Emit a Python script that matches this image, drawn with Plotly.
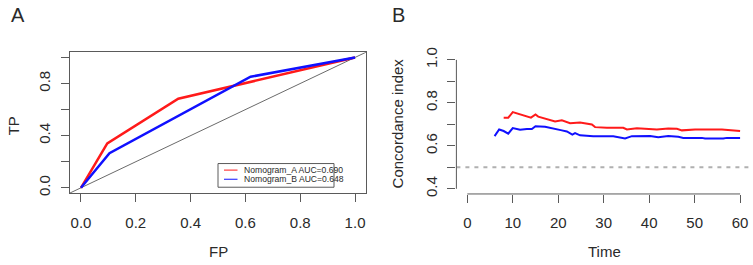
import plotly.graph_objects as go

# ---------------- Panel A data (ROC) ----------------
fp_a = [0, 0.096, 0.355, 1.0]
tp_a = [0, 0.34, 0.683, 1.0]
fp_b = [0, 0.104, 0.619, 1.0]
tp_b = [0, 0.265, 0.852, 1.0]
roc_names = ["Nomogram_A AUC=0.690", "Nomogram_B AUC=0.648"]
roc_ticks = [0, 0.2, 0.4, 0.6, 0.8, 1.0]
roc_xlabels = ["0.0", "0.2", "0.4", "0.6", "0.8", "1.0"]
roc_ylabels = ["0.0", "", "0.4", "", "0.8", ""]

# ---------------- Panel B data (C-index over time) ----------------
time_a = [8, 9, 10, 14, 15, 15.6, 19.3, 20.8, 22.6, 24.8, 27.4, 28.1, 30.7, 34.3,
          35.1, 37.3, 41.7, 44.2, 46.1, 47.2, 50.1, 56, 60]
cidx_a = [0.731, 0.731, 0.757, 0.731, 0.746, 0.736, 0.713, 0.719, 0.705, 0.709,
          0.699, 0.687, 0.684, 0.684, 0.676, 0.682, 0.676, 0.681, 0.679, 0.672,
          0.676, 0.676, 0.669]
time_b = [6, 7, 8, 9, 10, 11.6, 13.1, 14.2, 15, 17.1, 20.8, 21.9, 23.1, 23.7, 24.8,
          27.7, 32.1, 34.7, 36.2, 40.2, 42, 44.2, 46.4, 47.5, 51.6, 52.3, 56.3, 57.1, 60]
cidx_b = [0.645, 0.676, 0.669, 0.657, 0.683, 0.675, 0.678, 0.678, 0.691, 0.689,
          0.672, 0.667, 0.652, 0.659, 0.649, 0.645, 0.645, 0.634, 0.645, 0.646,
          0.640, 0.646, 0.642, 0.637, 0.637, 0.634, 0.634, 0.637, 0.637]
ref_c = 0.5
time_ticks = [0, 10, 20, 30, 40, 50, 60]
c_ticks = [0.4, 0.5, 0.6, 0.7, 0.8, 0.9, 1.0]
c_labels = ["0.4", "", "0.6", "", "0.8", "", "1.0"]

# ---------------- style ----------------
RED = "#ff1a1a"
BLUE = "#1010ff"
AXC = "#5a5a5a"
TXT = "#2a2a2a"
FONT = "Liberation Sans, Arial, sans-serif"
W, H = 753, 265

XA = [-0.04, 1.04]
YA = [-0.04, 1.04]
XB = [-2.4, 62.4]
YB = [0.376, 1.024]

fig = go.Figure()

# Panel A
fig.add_trace(go.Scatter(x=XA, y=YA, mode="lines", line=dict(color="#444", width=0.8),
                         xaxis="x", yaxis="y", showlegend=False, hoverinfo="skip"))
fig.add_trace(go.Scatter(x=fp_a, y=tp_a, mode="lines", line=dict(color=RED, width=2.5),
                         xaxis="x", yaxis="y", name=roc_names[0], showlegend=False))
fig.add_trace(go.Scatter(x=fp_b, y=tp_b, mode="lines", line=dict(color=BLUE, width=2.5),
                         xaxis="x", yaxis="y", name=roc_names[1], showlegend=False))

# Panel B
fig.add_trace(go.Scatter(x=XB, y=[ref_c, ref_c], mode="lines",
                         line=dict(color="#b0b0b0", width=2, dash="4px,5px"),
                         xaxis="x2", yaxis="y2", showlegend=False, hoverinfo="skip"))
fig.add_trace(go.Scatter(x=time_a, y=cidx_a, mode="lines", line=dict(color=RED, width=2),
                         xaxis="x2", yaxis="y2", showlegend=False))
fig.add_trace(go.Scatter(x=time_b, y=cidx_b, mode="lines", line=dict(color=BLUE, width=2),
                         xaxis="x2", yaxis="y2", showlegend=False))

tickfont = dict(family=FONT, size=15, color=TXT)
common = dict(showgrid=False, zeroline=False, ticks="outside", ticklen=8,
              tickcolor=AXC, tickwidth=1, tickfont=tickfont)

fig.update_layout(
    width=W, height=H, margin=dict(l=0, r=0, t=0, b=0),
    paper_bgcolor="white", plot_bgcolor="white",
    xaxis=dict(domain=[70 / W, 366 / W], range=XA, tickvals=roc_ticks, ticktext=roc_xlabels,
               showline=True, mirror=True, linecolor=AXC, linewidth=1, anchor="y",
               ticklabelstandoff=8, **common),
    yaxis=dict(domain=[1 - 193.3 / H, 1 - 47 / H], range=YA, tickvals=roc_ticks,
               ticktext=roc_ylabels, tickangle=-90, showline=True, mirror=True,
               linecolor=AXC, linewidth=1, anchor="x", ticklabelstandoff=5, **common),
    xaxis2=dict(domain=[456.4 / W, 751 / W], range=XB, tickvals=time_ticks,
                showline=False, anchor="y2", ticklabelstandoff=7, **common),
    yaxis2=dict(domain=[1 - 194.3 / H, 1 - 49.6 / H], range=YB, tickvals=c_ticks,
                ticktext=c_labels, tickangle=-90, showline=False, anchor="x2",
                ticklabelstandoff=4, **common),
)

# Panel B axis lines spanning only the tick range (R style)
def fx(v):
    return (v - XB[0]) / (XB[1] - XB[0])

def fy(v):
    return (v - YB[0]) / (YB[1] - YB[0])

fig.add_shape(type="line", xref="x2 domain", yref="y2 domain",
              x0=fx(time_ticks[0]), x1=fx(time_ticks[-1]), y0=0, y1=0,
              line=dict(color=AXC, width=1))
fig.add_shape(type="line", xref="x2 domain", yref="y2 domain",
              x0=0, x1=0, y0=fy(c_ticks[0]), y1=fy(c_ticks[-1]),
              line=dict(color=AXC, width=1))

# Legend for panel A (drawn manually, R style)
fig.add_shape(type="rect", xref="paper", yref="paper",
              x0=218 / W, x1=334 / W, y0=1 - 187.3 / H, y1=1 - 162.7 / H,
              line=dict(color=AXC, width=1), fillcolor="white")
for i, (nm, col) in enumerate(zip(roc_names, [RED, BLUE])):
    yy = 1 - (169.5 + 9.5 * i) / H
    fig.add_shape(type="line", xref="paper", yref="paper",
                  x0=224 / W, x1=237.5 / W, y0=yy, y1=yy,
                  line=dict(color=col, width=1))
    fig.add_annotation(text=nm, xref="paper", yref="paper", x=241.5 / W, y=yy,
                       xanchor="left", yanchor="middle", showarrow=False,
                       font=dict(family=FONT, size=8.6, color=TXT))

ann = [
    dict(text="A", x=17.5, y=8, size=20),
    dict(text="B", x=398, y=8, size=20),
    dict(text="FP", x=218, y=254, size=15),
    dict(text="Time", x=604, y=254, size=15),
    dict(text="TP", x=13, y=123, size=15, angle=-90),
    dict(text="Concordance index", x=397, y=121, size=15, angle=-90),
]
for a in ann:
    fig.add_annotation(text=a["text"], xref="paper", yref="paper",
                       x=a["x"] / W, y=1 - a["y"] / H, xanchor="center", yanchor="middle",
                       showarrow=False, textangle=a.get("angle", 0),
                       font=dict(family=FONT, size=a["size"], color=TXT))

fig.write_html("out.html", config={"displayModeBar": False},
               post_script="document.body.style.margin='0';"
               "document.body.style.overflow='hidden';")
